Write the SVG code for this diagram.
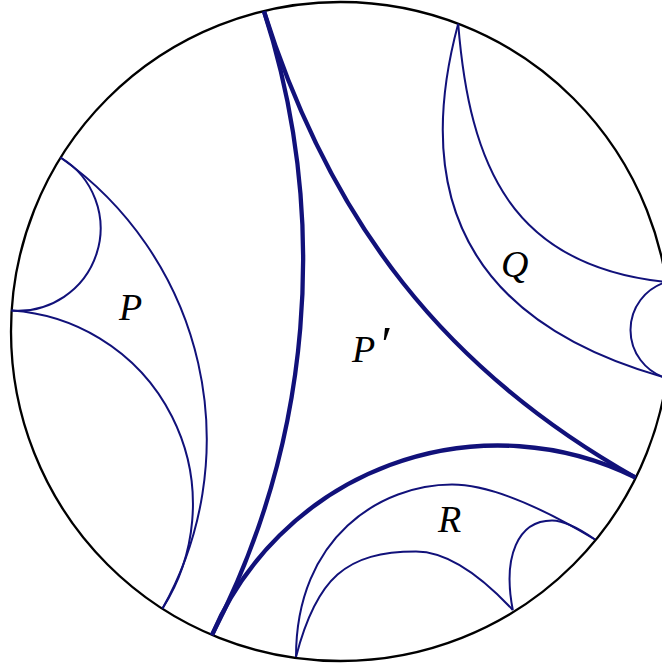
<svg xmlns="http://www.w3.org/2000/svg" width="662" height="668" viewBox="0 0 662 668">
<style>
.bd{fill:none;stroke:#000;stroke-width:2.3}
.g{fill:none;stroke:#11117a;stroke-width:2;stroke-linejoin:round}
.gt{fill:none;stroke:#11117a;stroke-width:4.3;stroke-linejoin:round}
.lb{font-family:"Liberation Serif","Times New Roman",serif;font-style:italic;font-size:38px;fill:#000}
</style>
<rect width="662" height="668" fill="#fff"/>
<g id="disk">
<circle class="bd" cx="340.5" cy="331.5" r="329.5"/>
</g>
<g id="connectors">
<g id="Pprime">
<path class="gt" d="M212,635 A815,815 0 0 0 264,11.3"/>
<path class="gt" d="M264,11.3 C330.2,221.7 444.7,370 635.5,477.5"/>
<path class="gt" d="M635.5,477.5 A310.9,310.9 0 0 0 212,635"/>
</g>
<g id="Pedges">
<path class="g" d="M11.5,310.5 A82.5,82.5 0 0 0 60.5,157.5"/>
<path class="g" d="M162.5,608.5 A194.1,194.1 0 0 0 11.5,310.5"/>
<path class="g" d="M162.5,608.5 A345,345 0 0 0 60.5,157.5"/>
</g>
<g id="Qedges">
<path class="g" d="M458.2,23.8 C407.2,213.2 484,327.2 666.5,378"/>
<path class="g" d="M458.2,23.8 C469.6,165.8 511.3,266.4 666.5,282"/>
<path class="g" d="M666.5,282 A50,50 0 0 0 666.5,378"/>
</g>
<g id="Redges">
<path class="g" d="M296,657 C296,536.25 381.8,484.5 452,484.5 C486.2,484.5 533.9,502.8 595,539.5"/>
<path class="g" d="M296,657 C316.4,577.9 346.4,551.5 416,551.5 C444.2,551.5 476.5,571 512.8,610"/>
<path class="g" d="M512.8,610 C502.4,556.3 518.1,520.5 552,520.5 C562.5,520.5 576.8,526.8 595,539.5"/>
</g>
</g>
<g id="label-P"><text class="lb" x="119" y="320">P</text></g>
<g id="label-Pprime"><text class="lb" x="352" y="362">P<tspan font-size="50" dx="3" dy="-1">′</tspan></text></g>
<g id="label-Q"><text class="lb" x="501" y="277">Q</text></g>
<g id="label-R"><text class="lb" x="438" y="532">R</text></g>
</svg>
